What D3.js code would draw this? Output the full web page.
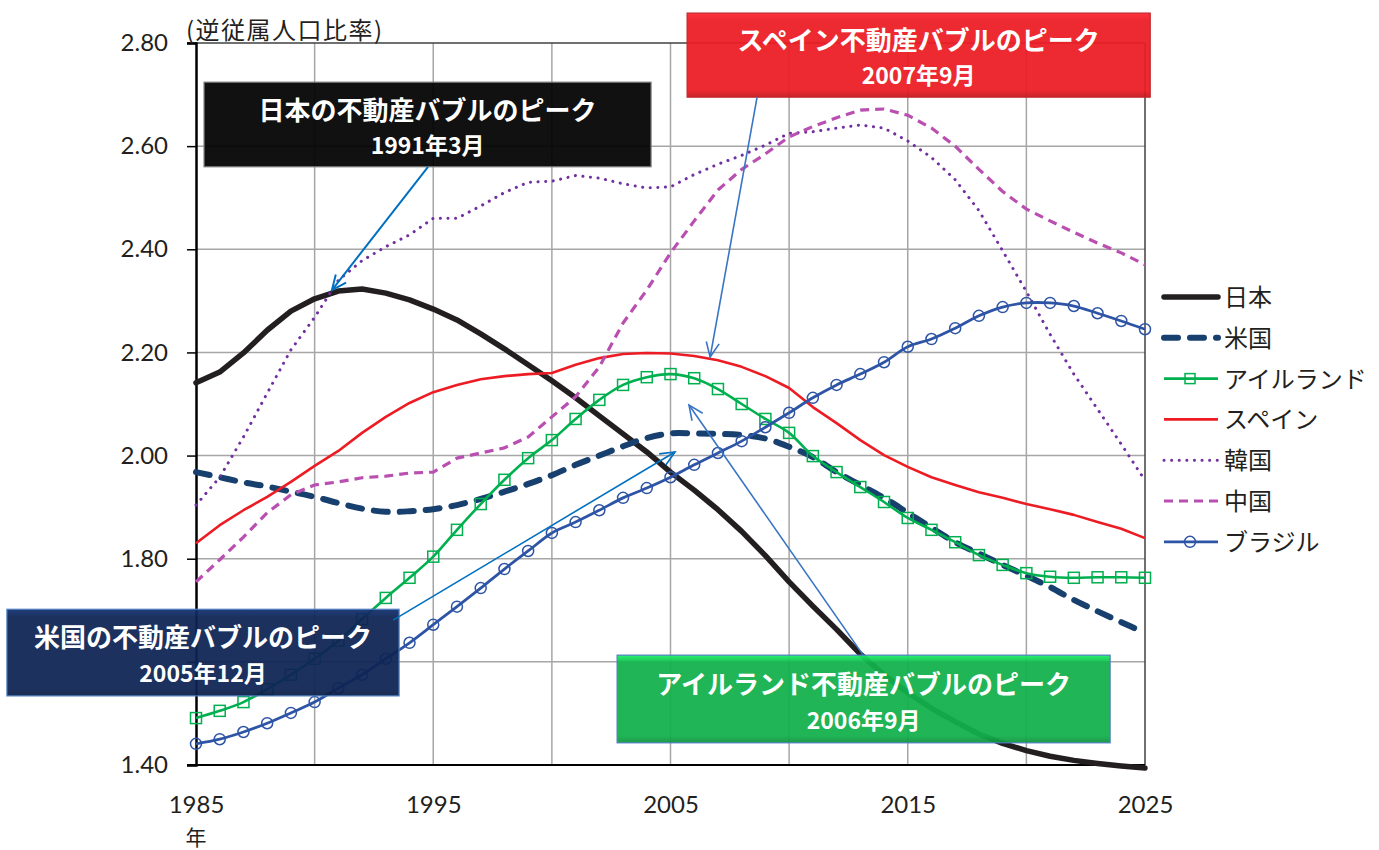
<!DOCTYPE html>
<html>
<head>
<meta charset="utf-8">
<script src="https://cdnjs.cloudflare.com/ajax/libs/d3/7.8.5/d3.min.js"></script>
<style>
  body { margin: 0; background: #fff; }
  svg text { font-family: "Noto Sans CJK JP", sans-serif; }
  .num { font-family: Lato, "Noto Sans CJK JP", sans-serif; }
</style>
</head>
<body>
<svg id="chart" width="1379" height="850"></svg>
<script>
// ---- data ----
var years = d3.range(1985, 2026);
var japan = [2.141,2.162,2.199,2.243,2.280,2.304,2.319,2.323,2.315,2.302,2.284,2.263,2.236,2.207,2.176,2.145,2.112,2.077,2.042,2.007,1.968,1.933,1.895,1.853,1.806,1.755,1.708,1.663,1.615,1.575,1.540,1.510,1.484,1.460,1.442,1.428,1.417,1.409,1.403,1.398,1.394];
var usa = [1.968,1.958,1.948,1.940,1.930,1.920,1.908,1.897,1.891,1.892,1.896,1.904,1.916,1.930,1.945,1.962,1.982,2.000,2.018,2.034,2.043,2.043,2.042,2.040,2.033,2.017,1.997,1.968,1.943,1.918,1.889,1.860,1.832,1.810,1.788,1.767,1.745,1.720,1.698,1.677,1.656];
var ireland = [1.491,1.505,1.522,1.547,1.575,1.606,1.641,1.683,1.724,1.763,1.804,1.856,1.906,1.953,1.995,2.030,2.071,2.108,2.137,2.152,2.158,2.150,2.129,2.100,2.071,2.044,1.999,1.968,1.939,1.910,1.879,1.856,1.832,1.807,1.788,1.772,1.765,1.763,1.764,1.764,1.763];
var spain = [1.830,1.865,1.894,1.920,1.949,1.980,2.009,2.044,2.075,2.102,2.123,2.137,2.148,2.154,2.158,2.160,2.176,2.189,2.197,2.199,2.198,2.193,2.185,2.172,2.154,2.131,2.094,2.063,2.030,2.001,1.978,1.958,1.943,1.929,1.918,1.906,1.896,1.885,1.871,1.858,1.840];
var korea = [1.904,1.958,2.036,2.121,2.205,2.268,2.340,2.378,2.405,2.428,2.460,2.460,2.484,2.510,2.530,2.532,2.543,2.538,2.527,2.519,2.521,2.545,2.565,2.582,2.602,2.625,2.628,2.635,2.641,2.635,2.610,2.578,2.535,2.475,2.397,2.318,2.235,2.158,2.090,2.022,1.952];
var china = [1.755,1.798,1.842,1.889,1.924,1.943,1.949,1.957,1.960,1.966,1.968,1.995,2.005,2.015,2.036,2.075,2.114,2.172,2.257,2.321,2.393,2.455,2.515,2.555,2.585,2.618,2.638,2.655,2.670,2.672,2.660,2.635,2.600,2.555,2.512,2.478,2.455,2.433,2.412,2.393,2.370];
var brazil = [1.441,1.450,1.464,1.481,1.501,1.522,1.549,1.575,1.606,1.637,1.672,1.707,1.743,1.780,1.815,1.850,1.871,1.894,1.918,1.937,1.958,1.982,2.005,2.028,2.055,2.083,2.112,2.137,2.158,2.181,2.211,2.226,2.247,2.271,2.288,2.296,2.296,2.290,2.276,2.261,2.245];

var seriesNames = ["日本", "米国", "アイルランド", "スペイン", "韓国", "中国", "ブラジル"];
var yTicks = [1.4, 1.6, 1.8, 2.0, 2.2, 2.4, 2.6, 2.8];
var yHidden = [1.6]; // this label sits under the 米国 box in the reference
var xGrid = [1985, 1990, 1995, 2000, 2005, 2010, 2015, 2020, 2025];
var xLabels = [1985, 1995, 2005, 2015, 2025];

// annotation boxes (in data units): [year left, year right, top value, bottom value]
var annText = [["日本の不動産バブルのピーク", "1991年3月"],
               ["スペイン不動産バブルのピーク", "2007年9月"],
               ["米国の不動産バブルのピーク", "2005年12月"],
               ["アイルランド不動産バブルのピーク", "2006年9月"]];
var annBox = [[1985.34, 2004.18, 2.724, 2.560],
              [2005.70, 2025.22, 2.858, 2.695],
              [1977.03, 1993.56, 1.702, 1.534],
              [2002.75, 2023.53, 1.613, 1.443]];
// arrows: [from year, from value, to year, to value]
var annArrow = [[1994.78, 2.560, 1990.73, 2.321],
                [2008.65, 2.695, 2006.67, 2.191],
                [1993.31, 1.681, 2005.19, 2.007],
                [2013.12, 1.613, 2005.78, 2.098]];

// ---- styles ----
var seriesValues = [japan, usa, ireland, spain, korea, china, brazil];
var styles = [
    { color: "#231f20", width: 5.5, dash: null, cap: "round", curve: d3.curveLinear },
    { color: "#17406f", width: 6, dash: "14,12", cap: "round", curve: d3.curveCatmullRom },
    { color: "#00b04f", width: 2.6, dash: null, cap: "butt", marker: "square", curve: d3.curveCatmullRom },
    { color: "#ed1c24", width: 2.6, dash: null, cap: "butt", curve: d3.curveLinear },
    { color: "#7030a0", width: 3, dash: "0.1,7.5", cap: "round", curve: d3.curveLinear },
    { color: "#b94fb0", width: 3.2, dash: "9,6", cap: "butt", curve: d3.curveLinear },
    { color: "#2d54a5", width: 2.8, dash: null, cap: "butt", marker: "circle", curve: d3.curveCatmullRom }
];
var annColors = ["#020202", "#ec1c24", "#0e2454", "#12b04b"];
var annBorders = ["#777777", "#c0262c", "#4f7fc0", "#4f7fc0"];
var arrowColors = ["#0070c0", "#3a75c4", "#0070c0", "#3a75c4"];

var svg = d3.select("#chart");
var x = d3.scaleLinear().domain([1985, 2025]).range([196, 1145]);
var y = d3.scaleLinear().domain([1.4, 2.8]).range([765, 43]);

// grid
svg.append("g").selectAll("line.h")
    .data(yTicks.filter(function (d) { return d > 1.4 && d < 2.8; }))
    .enter().append("line")
    .attr("x1", x(1985)).attr("x2", x(2025))
    .attr("y1", d => y(d)).attr("y2", d => y(d))
    .attr("stroke", "#a6a6a6").attr("stroke-width", 1.5);
svg.append("g").selectAll("line.v")
    .data(xGrid.filter(function (d) { return d > 1985 && d < 2025; }))
    .enter().append("line")
    .attr("x1", d => x(d)).attr("x2", d => x(d))
    .attr("y1", y(2.8)).attr("y2", y(1.4))
    .attr("stroke", "#a6a6a6").attr("stroke-width", 1.5);
// top and right border
svg.append("line").attr("x1", x(1985) - 9).attr("x2", x(2025)).attr("y1", y(2.8)).attr("y2", y(2.8))
    .attr("stroke", "#404040").attr("stroke-width", 1.5);
svg.append("line").attr("x1", x(2025)).attr("x2", x(2025)).attr("y1", y(2.8)).attr("y2", y(1.4))
    .attr("stroke", "#404040").attr("stroke-width", 1.5);

// y axis
var yAxis = d3.axisLeft(y).tickValues(yTicks)
    .tickFormat(d => yHidden.indexOf(d) >= 0 ? "" : d3.format(".2f")(d))
    .tickSize(9).tickPadding(19);
var gy = svg.append("g").attr("transform", "translate(" + x(1985) + ",0)").call(yAxis);
gy.select(".domain").attr("stroke", "#000").attr("stroke-width", 2.5);
gy.selectAll(".tick line").attr("stroke", "#000").attr("stroke-width", 1.5);
gy.selectAll(".tick text").attr("class", "num").attr("font-size", 24).attr("fill", "#231f20");

// x axis
var xAxis = d3.axisBottom(x).tickValues(xLabels).tickFormat(d3.format("d")).tickSize(0).tickPadding(31);
var gx = svg.append("g").attr("transform", "translate(0," + y(1.4) + ")").call(xAxis);
gx.select(".domain").remove();
gx.selectAll(".tick text").attr("class", "num").attr("font-size", 24).attr("fill", "#231f20");
svg.append("line").attr("x1", x(1985) - 9).attr("x2", x(2025)).attr("y1", y(1.4)).attr("y2", y(1.4))
    .attr("stroke", "#000").attr("stroke-width", 2);
svg.append("text").attr("x", x(1985)).attr("y", 845).attr("text-anchor", "middle")
    .attr("font-size", 21).attr("fill", "#231f20").text("年");
svg.append("text").attr("x", 186).attr("y", 39)
    .attr("font-size", 24).attr("letter-spacing", 1.5).attr("fill", "#231f20").text("(逆従属人口比率)");

// series
seriesValues.forEach(function (vals, i) {
    var st = styles[i];
    var pts = years.map(function (yr, j) { return [yr, vals[j]]; });
    var line = d3.line().x(d => x(d[0])).y(d => y(d[1])).curve(st.curve);
    svg.append("path").datum(pts)
        .attr("d", line)
        .attr("fill", "none")
        .attr("stroke", st.color)
        .attr("stroke-width", st.width)
        .attr("stroke-linecap", st.cap)
        .attr("stroke-linejoin", "round")
        .attr("stroke-dasharray", st.dash);
    if (st.marker === "square") {
        svg.append("g").selectAll("rect").data(pts).enter().append("rect")
            .attr("x", d => x(d[0]) - 5.5).attr("y", d => y(d[1]) - 5.5)
            .attr("width", 11).attr("height", 11)
            .attr("fill", "none").attr("stroke", st.color).attr("stroke-width", 1.5);
    }
    if (st.marker === "circle") {
        svg.append("g").selectAll("circle").data(pts).enter().append("circle")
            .attr("cx", d => x(d[0])).attr("cy", d => y(d[1])).attr("r", 5.5)
            .attr("fill", "none").attr("stroke", st.color).attr("stroke-width", 1.5);
    }
});

// legend
var leg = svg.append("g");
seriesNames.forEach(function (name, i) {
    var st = styles[i];
    var ly = 297 + i * 40.8;
    leg.append("line").attr("x1", 1164).attr("x2", 1218).attr("y1", ly).attr("y2", ly)
        .attr("stroke", st.color).attr("stroke-width", st.width)
        .attr("stroke-linecap", st.cap).attr("stroke-dasharray", st.dash);
    if (st.marker === "square") {
        leg.append("rect").attr("x", 1185).attr("y", ly - 5).attr("width", 10).attr("height", 10)
            .attr("fill", "none").attr("stroke", st.color).attr("stroke-width", 1.5);
    }
    if (st.marker === "circle") {
        leg.append("circle").attr("cx", 1190).attr("cy", ly).attr("r", 5.5)
            .attr("fill", "none").attr("stroke", st.color).attr("stroke-width", 1.5);
    }
    leg.append("text").attr("x", 1224).attr("y", ly + 9)
        .attr("font-size", 24).attr("fill", "#231f20").text(name);
});

// annotations
var defs = svg.append("defs");
annBox.forEach(function (b, i) {
    var base = d3.color(annColors[i]);
    var g = defs.append("linearGradient").attr("id", "gr" + i)
        .attr("x1", 0).attr("x2", 0).attr("y1", 0).attr("y2", 1);
    g.append("stop").attr("offset", "0%").attr("stop-color", base.brighter(0.9));
    g.append("stop").attr("offset", "9%").attr("stop-color", base);
    g.append("stop").attr("offset", "92%").attr("stop-color", base);
    g.append("stop").attr("offset", "100%").attr("stop-color", base.darker(0.5));

    var x0 = x(b[0]), x1 = x(b[1]), y0 = y(b[2]), y1 = y(b[3]);
    svg.append("rect").attr("x", x0).attr("y", y0)
        .attr("width", x1 - x0).attr("height", y1 - y0)
        .attr("fill", "url(#gr" + i + ")").attr("fill-opacity", 0.94)
        .attr("stroke", annBorders[i]).attr("stroke-width", 1.2);
    var cx = (x0 + x1) / 2;
    svg.append("text").attr("x", cx).attr("y", y0 + (y1 - y0) * 0.36 + 7)
        .attr("text-anchor", "middle").attr("font-size", 26).attr("font-weight", "bold")
        .attr("fill", "#fff").text(annText[i][0]);
    svg.append("text").attr("x", cx).attr("y", y0 + (y1 - y0) * 0.74 + 9)
        .attr("text-anchor", "middle").attr("font-size", 23).attr("font-weight", "bold")
        .attr("fill", "#fff").text(annText[i][1]);
});

annArrow.forEach(function (a, i) {
    var x0 = x(a[0]), y0 = y(a[1]), x1 = x(a[2]), y1 = y(a[3]);
    var ang = Math.atan2(y1 - y0, x1 - x0);
    var hl = 16, spread = 0.42;
    svg.append("line").attr("x1", x0).attr("y1", y0).attr("x2", x1).attr("y2", y1)
        .attr("stroke", arrowColors[i]).attr("stroke-width", i === 0 ? 2 : 1.6);
    var p = [[x1 - hl * Math.cos(ang - spread), y1 - hl * Math.sin(ang - spread)],
             [x1, y1],
             [x1 - hl * Math.cos(ang + spread), y1 - hl * Math.sin(ang + spread)]];
    svg.append("path").attr("d", d3.line()(p))
        .attr("fill", "none").attr("stroke", arrowColors[i]).attr("stroke-width", i === 0 ? 2 : 1.6);
});
</script>
</body>
</html>
